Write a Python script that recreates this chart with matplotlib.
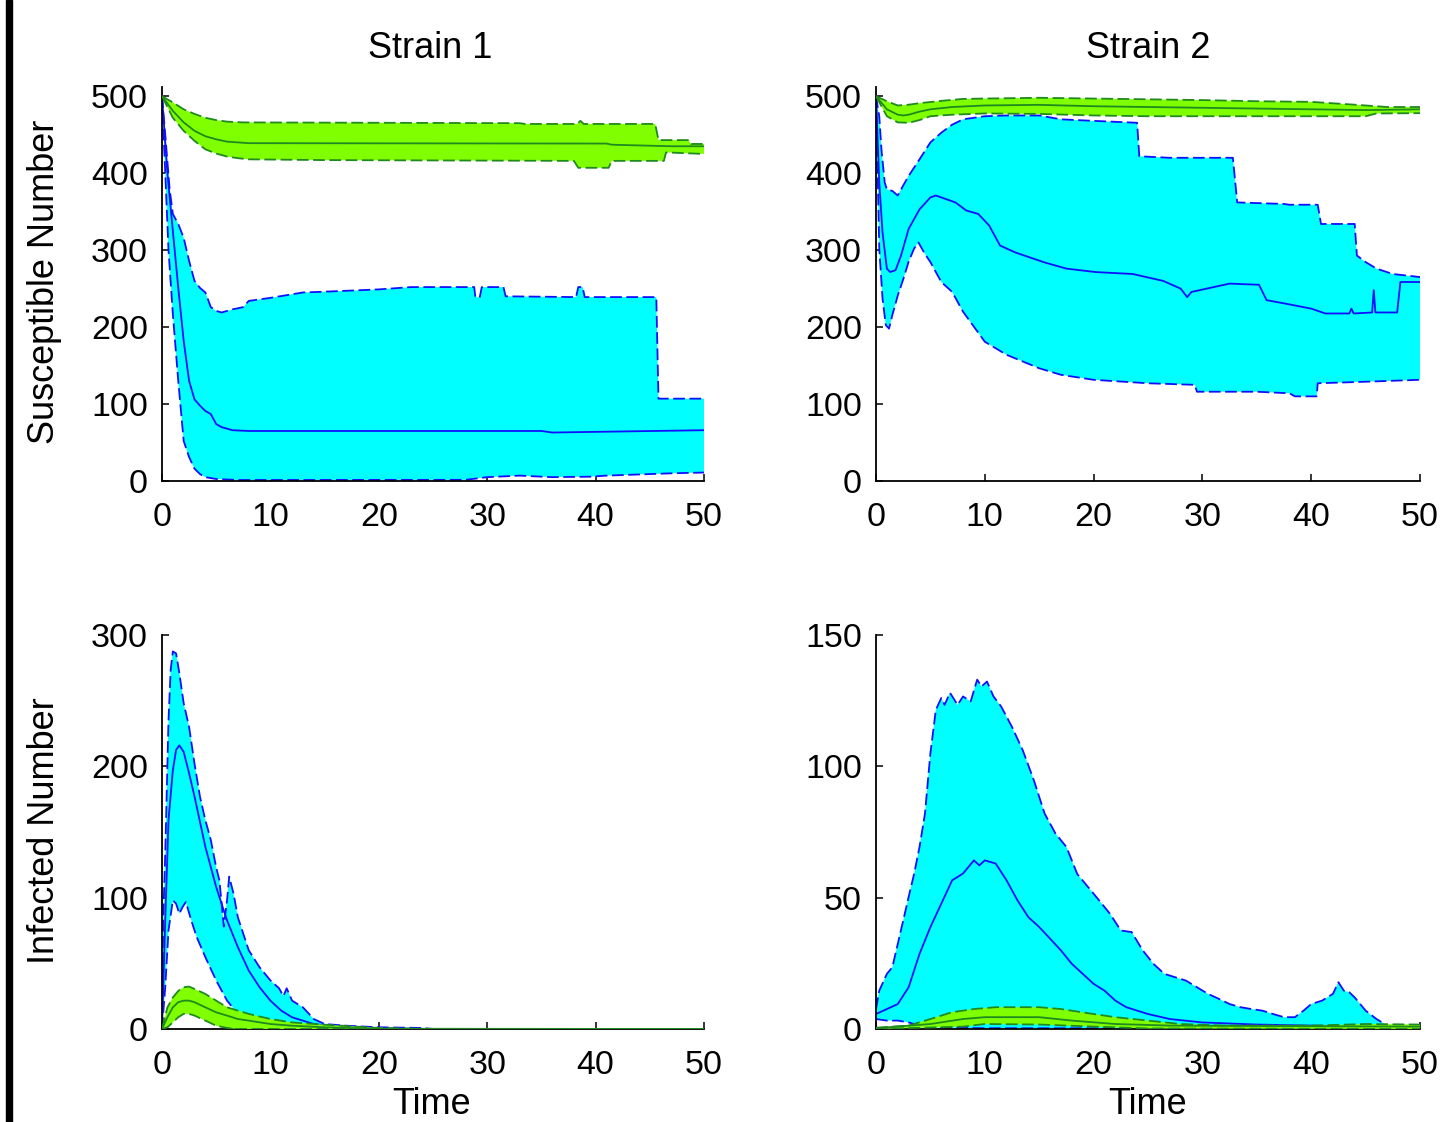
import numpy as np
import matplotlib
matplotlib.use('Agg')
import matplotlib.pyplot as plt
from matplotlib.patches import Rectangle

plt.rcParams['font.family'] = ['Liberation Sans', 'DejaVu Sans']

# ---- datos: pares (tiempo, valor) ----
# Cepa 1, susceptibles
s1_sus_cyan_hi = [[0, 500], [0.3, 450], [0.7, 380], [1, 347], [1.5, 334], [2, 316], [2.5, 286], [3, 260],
                  [3.5, 251], [4, 245], [4.5, 226], [5, 221], [5.5, 219], [6.5, 223], [7.5, 226], [8, 234],
                  [10, 238], [13, 245], [15, 246], [20, 249], [23, 252], [28.8, 252], [28.9, 240], [29.3, 238],
                  [29.5, 252], [31.5, 252], [31.7, 240], [38.2, 239], [38.4, 252], [38.8, 252], [39, 239],
                  [45.6, 239], [45.8, 107], [50, 107]]
s1_sus_cyan_med = [[0, 500], [0.5, 400], [1, 325], [1.5, 251], [2, 182], [2.5, 130], [3, 106], [3.5, 98],
                   [4, 91], [4.5, 87], [5, 74], [5.5, 70], [6.5, 66], [8, 65], [35, 65], [36, 63], [50, 66]]
s1_sus_cyan_lo = [[0, 500], [0.3, 400], [0.6, 300], [1, 217], [1.5, 130], [2, 52], [2.5, 31], [3, 16],
                  [3.5, 9], [4, 5], [5, 2.6], [7, 1.3], [28, 1.5], [30, 5], [33, 7], [36, 5], [39.5, 5.6],
                  [41, 7], [45, 9], [47, 10], [50, 11]]
s1_sus_green_hi = [[0, 500], [1, 492], [2, 483], [3, 477], [4, 472], [5, 469], [6, 467], [7.5, 466],
                   [33, 465], [33.5, 464], [38.3, 464], [38.6, 468], [38.9, 464], [45.5, 464], [45.8, 443],
                   [48.6, 443], [48.8, 438], [50, 438]]
s1_sus_green_med = [[0, 500], [1, 481], [2, 466], [3, 455], [4, 448], [5, 444], [6, 441], [8, 439],
                    [41, 438.5], [41.5, 437], [47, 435], [50, 435]]
s1_sus_green_lo = [[0, 500], [1, 472], [2, 455], [3, 442], [4, 431], [5, 425.5], [6, 421.6], [7, 419.5],
                   [8, 418], [15, 417], [38, 416], [38.4, 407], [41.2, 407], [41.5, 416], [46.3, 416],
                   [46.5, 427], [50, 425]]

# Cepa 2, susceptibles
s2_sus_cyan_hi = [[0, 500], [0.3, 474], [0.5, 431], [0.8, 388], [1, 379], [1.5, 377], [2, 371], [2.5, 384],
                  [3, 396.5], [4, 418], [5, 440], [6, 452.6], [7, 463], [8, 470], [10, 474], [12, 475],
                  [15, 475], [17, 470], [20, 468], [24, 465.5], [24.2, 422], [27, 420], [32.8, 420],
                  [33.2, 362], [37.5, 360], [38, 359], [40.6, 359], [40.9, 334], [44, 334], [44.2, 293],
                  [45, 284.5], [46, 276], [47.5, 269], [50, 265]]
s2_sus_cyan_med = [[0, 500], [0.3, 388], [0.6, 323], [1, 276], [1.3, 271.5], [1.8, 274], [2.3, 293],
                   [3, 327.6], [4, 353], [5, 368.5], [5.5, 371], [7.3, 362], [8.3, 351.5], [9.4, 347],
                   [10.4, 332], [11.4, 306], [12.8, 297], [15.5, 284], [17.5, 276], [20.2, 271.5],
                   [23.6, 269], [26.4, 260], [28, 250], [28.6, 239], [29, 245.7], [32.5, 256.5], [35.2, 255],
                   [35.9, 235], [37.6, 230.6], [40, 224], [41.3, 217.7], [43.5, 217.7], [43.7, 224],
                   [43.9, 217.7], [45.6, 219], [45.75, 248], [45.9, 219], [47.9, 219], [48.2, 258.6],
                   [50, 258.6]]
s2_sus_cyan_lo = [[0, 500], [0.3, 302], [0.6, 237], [0.9, 202.6], [1.2, 198], [1.5, 215.5], [2, 241],
                  [2.5, 262], [3, 285], [3.5, 302], [3.9, 310], [4.5, 295], [5, 284.5], [6, 258.6],
                  [7, 245.7], [8, 220], [10, 181], [12, 164], [15, 146.5], [17, 138], [20, 131.5],
                  [25, 127], [29.3, 125], [29.5, 116], [35, 116], [38, 114], [38.5, 110], [40.5, 110],
                  [40.6, 127], [45, 129], [50, 131.5]]
s2_sus_green_hi = [[0, 500], [1, 493.5], [2, 488], [3, 489], [4, 491], [6, 494], [8, 496.5], [10, 497],
                   [15, 498], [20, 497], [25, 496], [30, 495], [35, 493.5], [40, 492.7], [44, 489],
                   [47, 486], [50, 486]]
s2_sus_green_med = [[0, 500], [1, 483], [2, 476], [2.5, 475], [3, 476], [4, 480], [5, 483], [7, 486],
                    [10, 488], [15, 488.8], [20, 487], [25, 486], [30, 485], [35, 484], [40, 483],
                    [45, 482], [50, 483]]
s2_sus_green_lo = [[0, 500], [1, 474], [2, 466], [3, 465.5], [4, 469], [5, 474], [7, 476], [10, 477.6],
                   [15, 477], [20, 475], [25, 474], [45, 474], [46, 477.6], [50, 478]]

# Cepa 1, infectados
s1_inf_cyan_hi = [[0, 0], [0.1, 80], [0.3, 134], [0.6, 235], [0.8, 273.5], [1, 287.5], [1.3, 286],
                  [1.6, 271], [2, 248], [2.5, 230], [3, 202], [3.5, 177], [4, 159], [4.5, 144], [5, 123],
                  [5.3, 113], [5.7, 78], [6, 98], [6.2, 116], [6.6, 103], [7, 85], [7.5, 72.5], [8, 60],
                  [9, 47], [10, 37], [10.8, 31], [11.2, 25], [11.5, 31], [12, 21.6], [13, 16.5],
                  [14, 7.6], [15, 3.8], [17, 2.5], [20, 1.3], [24, 0.8], [25, 0], [50, 0]]
s1_inf_cyan_med = [[0, 0], [0.3, 83], [0.6, 159], [1, 197], [1.3, 212.5], [1.6, 216], [2, 211],
                   [2.5, 194.7], [3, 177], [4, 138.7], [5, 108], [6, 82.7], [7, 62.3], [8, 44.5],
                   [9, 31.8], [10, 21.6], [11, 14], [12, 8.9], [14, 3.8], [16, 1.8], [20, 0.5], [25, 0],
                   [50, 0]]
s1_inf_cyan_lo = [[0, 0], [0.3, 32], [0.6, 75], [1, 98], [1.3, 95.4], [1.6, 87.8], [1.9, 92.9],
                  [2.2, 96.7], [2.7, 82.7], [3.2, 70], [4, 54.7], [5, 36.9], [6, 21.6], [7, 11.5], [8, 5],
                  [9, 2.5], [10, 0.8], [11, 0], [50, 0]]
s1_inf_green_hi = [[0, 0], [0.5, 16.5], [1, 24], [1.5, 29], [2, 31.8], [2.5, 32.3], [3, 30.5], [4, 26.7],
                   [5, 21.6], [6, 16.5], [7, 14], [8, 11.5], [10, 7.6], [12, 5], [15, 3.3], [18, 1.8],
                   [20, 0.8], [24, 0], [50, 0]]
s1_inf_green_med = [[0, 0], [0.5, 9], [1, 16.5], [1.5, 20.4], [2, 21.6], [2.5, 21.6], [3, 20.4],
                    [4, 16.5], [5, 12.7], [6, 10.2], [7, 7.6], [8, 6.4], [10, 3.8], [12, 2.5], [15, 1.3],
                    [20, 0.2], [50, 0]]
s1_inf_green_lo = [[0, 0], [0.5, 1.3], [1, 5], [1.5, 9], [2, 11.5], [2.5, 11.5], [3, 10.2], [4, 6.4],
                   [5, 2.5], [6, 0.8], [7, 0], [50, 0]]

# Cepa 2, infectados
s2_inf_cyan_hi = [[0, 7.6], [0.3, 14.6], [1, 21], [1.5, 23.5], [2, 32.4], [2.5, 41.3], [3, 50.3],
                  [3.5, 59], [4, 69.3], [4.5, 82], [5, 105], [5.5, 121.5], [6, 126], [6.3, 123.4],
                  [6.8, 128], [7.5, 123.4], [8, 126.6], [8.7, 124.7], [9.3, 133], [9.7, 130.4],
                  [10.2, 132.3], [10.8, 126.6], [11.5, 122.8], [12.5, 115], [13.5, 106], [14.5, 94.8],
                  [15.5, 82], [16.5, 74.4], [17.5, 69.3], [18.5, 59], [19.5, 54], [20.5, 49], [21.5, 43.9],
                  [22.5, 37.5], [23.5, 36.9], [24.5, 30], [25.5, 24.8], [26.5, 21], [27.5, 19.7],
                  [28.5, 18.4], [29.5, 15.9], [30.5, 13.4], [31.5, 11.5], [32.5, 9.5], [33.5, 8.3],
                  [34.5, 7.6], [35.5, 7], [36.5, 5.7], [37.5, 4.5], [38.5, 4.5], [39.3, 7], [40, 9.5],
                  [41, 10.8], [42, 13.4], [42.5, 17.8], [43, 14.6], [43.5, 14], [44, 12], [45, 7],
                  [46, 3.8], [47, 1.3], [48, 0.6], [50, 0.6]]
s2_inf_cyan_med = [[0, 5.7], [1, 7.6], [2, 9.5], [3, 15.9], [4, 28.6], [5, 38.8], [6, 47.7], [7, 56.6],
                   [8, 59.2], [9, 64.2], [9.5, 62.3], [10, 64.2], [11, 63], [12, 56.6], [13, 49],
                   [14, 42.6], [15, 38.8], [16, 34.4], [17, 29.9], [18, 24.8], [19, 21], [20, 17.2],
                   [21, 14.6], [22, 10.8], [23, 8.3], [24, 7], [25, 5.7], [27, 3.8], [30, 2.5], [35, 1.7],
                   [40, 1.3], [45, 0.9], [50, 0.6]]
s2_inf_cyan_lo = [[0, 3.8], [1, 3.2], [2, 3.2], [3, 2.5], [4, 1.3], [5, 0.6], [10, 0.3], [50, 0.2]]
s2_inf_green_hi = [[0, 0.5], [3, 1.3], [5, 3.8], [7, 6.4], [9, 7.6], [11, 8.3], [15, 8.3], [17, 7.6],
                   [20, 5.7], [22, 4.5], [25, 3.2], [28, 1.9], [32, 1.3], [40, 1.3], [45, 1.9], [50, 1.7]]
s2_inf_green_med = [[0, 0.3], [5, 1.9], [8, 3.8], [10, 4.5], [15, 4.5], [18, 3.2], [22, 1.9], [27, 1.3],
                    [50, 0.9]]
s2_inf_green_lo = [[0, 0], [8, 0.9], [10, 1.9], [15, 1.7], [20, 0.9], [25, 0.2], [50, 0]]

titles = ['Strain 1', 'Strain 2']
row_labels = ['Susceptible Number', 'Infected Number']
y_ticks = [[0, 100, 200, 300, 400, 500], [0, 100, 200, 300, 400, 500],
           [0, 100, 200, 300], [0, 50, 100, 150]]
y_tops = [512, 512, 300, 150]
x_ticks = [0, 10, 20, 30, 40, 50]

CYAN = '#00ffff'
BLUE = '#1010ff'
LGREEN = '#80ff00'
DGREEN = '#1f8a1f'
FS = 26
TFS = 24.5

fig = plt.figure(figsize=(14.47, 11.22), dpi=100)
W, H = 1447, 1122
boxes = [(162, 87, 542), (876, 87, 544), (162, 635, 542), (876, 635, 544)]
panel_data = [
    (s1_sus_cyan_lo, s1_sus_cyan_med, s1_sus_cyan_hi, s1_sus_green_lo, s1_sus_green_med, s1_sus_green_hi),
    (s2_sus_cyan_lo, s2_sus_cyan_med, s2_sus_cyan_hi, s2_sus_green_lo, s2_sus_green_med, s2_sus_green_hi),
    (s1_inf_cyan_lo, s1_inf_cyan_med, s1_inf_cyan_hi, s1_inf_green_lo, s1_inf_green_med, s1_inf_green_hi),
    (s2_inf_cyan_lo, s2_inf_cyan_med, s2_inf_cyan_hi, s2_inf_green_lo, s2_inf_green_med, s2_inf_green_hi),
]


def band(ax, lo, med, hi, fill, edge, z):
    lo, med, hi = np.array(lo), np.array(med), np.array(hi)
    xs = np.concatenate([hi[:, 0], lo[::-1, 0]])
    ys = np.concatenate([hi[:, 1], lo[::-1, 1]])
    ax.fill(xs, ys, color=fill, lw=0, zorder=z)
    ax.plot(hi[:, 0], hi[:, 1], color=edge, lw=1.3, dashes=(6.5, 2.5), zorder=z + 0.1)
    ax.plot(lo[:, 0], lo[:, 1], color=edge, lw=1.3, dashes=(6.5, 2.5), zorder=z + 0.1)
    ax.plot(med[:, 0], med[:, 1], color=edge, lw=1.3, zorder=z + 0.1)


for i, (bx, ytop_px, bw) in enumerate(boxes):
    ax = fig.add_axes([bx / W, 1 - (ytop_px + 394) / H, bw / W, 394 / H])
    c_lo, c_med, c_hi, g_lo, g_med, g_hi = panel_data[i]
    band(ax, c_lo, c_med, c_hi, CYAN, BLUE, 2)
    band(ax, g_lo, g_med, g_hi, LGREEN, DGREEN, 3)
    ax.set_xlim(0, 50)
    ax.set_ylim(0, y_tops[i])
    ax.set_xticks(x_ticks)
    ax.set_yticks(y_ticks[i])
    for s in ['top', 'right']:
        ax.spines[s].set_visible(False)
    for s in ['left', 'bottom']:
        ax.spines[s].set_linewidth(1.3)
    ax.tick_params(direction='in', length=5, width=1.1, labelsize=TFS)
    ax.tick_params(axis='x', pad=15)
    ax.tick_params(axis='y', pad=10)

# titulos y etiquetas
fig.text(430 / W, 1 - 58 / H, titles[0], ha='center', va='baseline', fontsize=FS)
fig.text(1148 / W, 1 - 58 / H, titles[1], ha='center', va='baseline', fontsize=FS)
fig.text(432 / W, 1 - 1114 / H, 'Time', ha='center', va='baseline', fontsize=FS)
fig.text(1148 / W, 1 - 1114 / H, 'Time', ha='center', va='baseline', fontsize=FS)
fig.text(45 / W, 1 - 282 / H, row_labels[0], rotation=90, ha='center', va='center', fontsize=FS)
fig.text(45 / W, 1 - 831 / H, row_labels[1], rotation=90, ha='center', va='center', fontsize=FS)

# barra negra del borde izquierdo
fig.patches.append(Rectangle((6 / W, 0), 6 / W, 1, transform=fig.transFigure, color='black'))

fig.savefig('out.png', dpi=100)
